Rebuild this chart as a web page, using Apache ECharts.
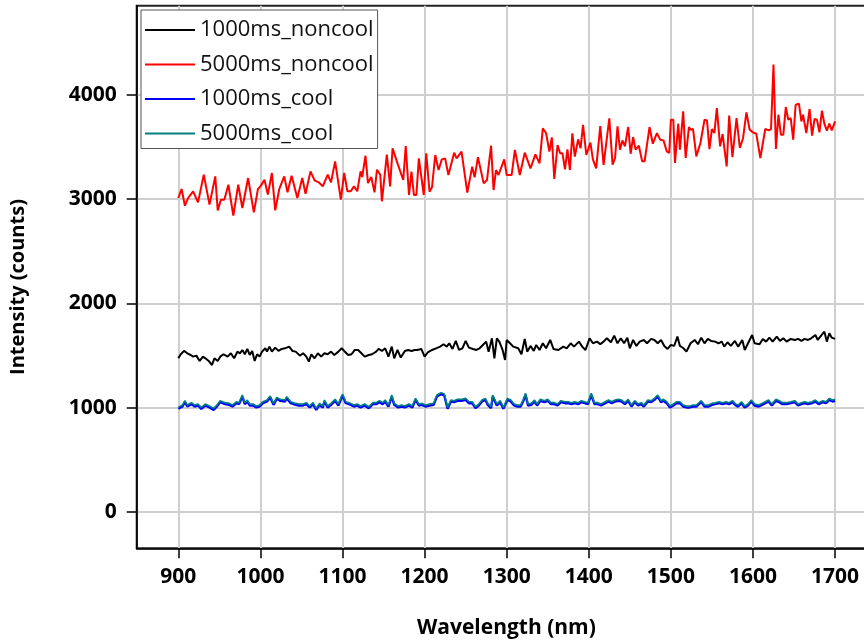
<!DOCTYPE html>
<html><head><meta charset="utf-8">
<script src="https://cdn.jsdelivr.net/npm/echarts@6/dist/echarts.min.js"></script>
<style>html,body{margin:0;padding:0;background:#fff}#c{width:864px;height:640px}</style>
</head><body><div id="c"></div><script>
const seriesNames = ['1000ms_noncool', '5000ms_noncool', '1000ms_cool', '5000ms_cool'];
const seriesColors = ['#000000', '#ff0000', '#0000ff', '#008080'];
const xTicks = [900, 1000, 1100, 1200, 1300, 1400, 1500, 1600, 1700];
const yTicks = [0, 1000, 2000, 3000, 4000];

// 1000ms_noncool (black)
const blackWl = [900,903,907,911,915,918,922,926,930,933,937,941,944,948,951,955,960,964,968,972,
975,978,981,984,987,990,993,996,999,1002,1006,1008,1011,1014,1018,1022,1026,1030,1035,1039,
1043,1048,1052,1056,1059,1062,1066,1070,1074,1078,1082,1086,1090,1095,1099,1102,1107,1111,1115,1119,
1123,1127,1132,1136,1141,1144,1148,1152,1156,1160,1163,1167,1171,1176,1180,1184,1188,1191,1196,1200,
1204,1209,1214,1219,1223,1227,1230,1234,1238,1242,1246,1250,1254,1259,1263,1267,1271,1275,1278,1282,
1285,1288,1291,1295,
1298,1300,1304,1308,1314,1318,1322,1325,1329,1333,1336,1340,1344,1348,1353,1357,1363,1369,1373,1378,
1382,1388,1392,1396,1401,1405,1410,1414,1418,1422,1427,1431,1435,1439,1443,1447,1450,1454,1458,1462,
1467,1471,1476,1480,1484,1488,1492,1496,1500,1504,1508,1511,1515,1519,1524,1529,1533,1537,1541,1545,
1549,1554,1558,1562,1565,1569,1573,1578,1582,1587,1590,1594,1599,1602,1608,1612,1616,1620,1624,1629,
1633,1637,1641,1646,1651,1655,1659,1663,1667,1671,1676,1679,1683,1687,1690,1693,1696,1700];
const blackVal = [1473,1512,1544,1521,1505,1489,1499,1448,1489,1473,1448,1409,1473,1448,1489,1512,1489,1521,1473,1537,
1521,1553,1512,1563,1505,1544,1448,1512,1489,1537,1569,1537,1585,1537,1576,1544,1563,1569,1585,1544,
1537,1499,1521,1489,1441,1512,1473,1521,1489,1521,1512,1537,1505,1537,1569,1544,1505,1512,1553,1553,
1521,1489,1505,1512,1537,1563,1544,1569,1489,1585,1473,1553,1480,1544,1553,1544,1553,1553,1563,1489,
1531,1553,1569,1585,1608,1585,1617,1563,1640,1553,1569,1640,1576,1563,1553,1569,1601,1633,1537,1665,
1473,1665,1633,1553,
1457,1649,1617,1585,1569,1512,1659,1537,1592,1544,1601,1553,1617,1569,1649,1563,1553,1585,1569,1617,
1585,1633,1585,1553,1665,1617,1633,1608,1633,1665,1627,1691,1617,1665,1617,1671,1569,1649,1592,1633,
1649,1617,1659,1649,1617,1649,1592,1563,1601,1592,1681,1592,1572,1537,1617,1649,1608,1671,1617,1659,
1640,1633,1617,1633,1585,1627,1592,1640,1585,1649,1553,1617,1697,1617,1608,1659,1633,1671,1633,1681,
1640,1665,1633,1659,1649,1659,1640,1659,1649,1665,1697,1649,1691,1729,1633,1713,1671,1659];

// 5000ms_noncool (red)
const redWl = [900,904,908,912,918,924,931,938,945,948,952,956,961,967,973,978,985,992,997,1000,
1005,1009,1014,1018,1023,1029,1033,1038,1045,1051,1055,1061,1066,1071,1076,1082,1086,1091,1098,1102,
1106,1110,1114,1118,1122,1124,1128,1131,1135,1139,1142,1146,1148,1154,1158,1161,1167,1174,1177,1181,
1184,1187,1190,1193,1199,1202,1206,1209,1213,1217,1221,1225,1229,1236,1239,1245,1252,1258,1261,1265,
1272,1276,1281,1284,1287,1290,1297,1300,1306,1310,1316,1322,1329,1335,1340,1344,1348,1352,1355,1358,
1362,1365,1368,1371,1374,1377,1380,1383,1387,1390,1393,1397,1402,1405,1409,1414,1418,1425,1429,1432,
1435,1438,1441,1444,1448,1451,1454,1457,1461,1465,1468,1474,1478,1483,1487,1491,1495,1498,1500,1503,
1505,1509,1511,1515,1518,1522,1524,1527,1531,1536,1541,1544,1547,1550,1553,1556,1560,1563,1568,1571,
1575,1580,1584,1588,1592,1596,1600,1604,1609,1615,1619,1622,1625,1628,1631,1634,1637,1640,1643,1646,
1649,1652,1656,1659,1661,1665,1669,1672,1675,1678,1681,1684,1687,1690,1693,1696,1700];
const redVal = [3010,3096,2936,3010,3074,2968,3233,2946,3217,2891,2994,2994,3137,2840,3137,2914,3201,2872,3096,3121,
3185,3042,3249,2891,3096,3217,3064,3224,3010,3201,3051,3265,3179,3160,3121,3233,3160,3361,2994,3249,
3074,3074,3121,3074,3265,3211,3415,3153,3211,3064,3281,3233,2978,3425,3121,3486,3342,3182,3508,3038,
3262,3038,3038,3390,3038,3438,3070,3112,3422,3278,3380,3390,3230,3444,3390,3454,3061,3310,3208,3400,
3150,3182,3511,3086,3278,3230,3380,3230,3230,3470,3230,3444,3294,3428,3342,3678,3630,3454,3591,3192,
3518,3438,3438,3284,3476,3278,3630,3406,3572,3486,3710,3422,3540,3380,3294,3700,3326,3773,3329,3393,
3696,3473,3562,3505,3690,3434,3594,3473,3511,3361,3361,3690,3530,3632,3569,3562,3457,3441,3760,3760,
3345,3722,3473,3840,3393,3690,3664,3671,3409,3537,3760,3754,3479,3671,3632,3872,3505,3623,3313,3799,
3402,3776,3489,3585,3831,3664,3639,3626,3393,3671,3658,3671,4288,3479,3808,3617,3617,3882,3760,3776,
3569,3904,3914,3744,3808,3632,3863,3607,3767,3760,3639,3847,3722,3655,3722,3658,3744];

// cooled series (blue and teal) share wavelengths
const coolWl = [900,905,908,911,916,920,924,928,933,938,943,947,951,957,962,966,971,974,978,981,
984,987,991,995,999,1003,1008,1012,1016,1020,1024,1030,1032,1037,1039,1043,1047,1052,1056,1060,
1064,1068,1072,1076,1078,1082,1086,1091,1095,1100,1104,1108,1114,1118,1122,1127,1132,1137,1141,1145,
1149,1152,1156,1160,1163,1168,1172,1176,1181,1185,1189,1193,1197,1201,1206,1211,1215,1220,1224,1228,
1232,1236,1240,1245,1250,1254,1258,1262,1266,1270,1274,1277,1281,1283,1288,1292,1296,
1301,1305,1309,1313,1317,1320,1323,1326,1330,1334,1337,1341,1346,1350,1354,1358,1362,1366,1371,1375,
1379,1383,1387,1391,1395,1399,1403,1407,1411,1415,1420,1424,1428,1432,1436,1440,1444,1448,1452,1456,
1460,1464,1467,1472,1476,1480,1484,1488,1491,1495,1499,1503,1507,1511,1515,1519,1523,1527,1531,1537,
1541,1546,1550,1554,1559,1563,1567,1571,1575,1579,1582,1586,1590,1594,1598,1602,1607,1611,1615,1619,
1623,1628,1632,1636,1641,1646,1651,1655,1659,1663,1667,1672,1676,1680,1685,1689,1693,1697,1700];
const blueVal = [989,1011,1053,1011,1034,1011,1021,989,1021,1002,979,1011,1053,1034,1027,1011,1043,1034,1107,1034,
1059,1021,1021,1002,1011,1043,1059,1097,1027,1085,1066,1059,1091,1043,1059,1027,1021,1021,1034,1002,
1034,979,1027,1002,1059,1002,1027,1066,1021,1117,1043,1034,1011,1021,1002,1021,995,1034,1034,1053,
1034,1059,1011,1107,1027,1002,1011,1002,1021,1002,1075,1021,1027,1011,1021,1027,1107,1129,1117,989,
1059,1053,1066,1066,1075,1043,1043,995,1021,1059,1075,1027,995,1107,1021,1053,989,
1075,1059,1021,1011,1011,1059,1123,1021,1027,1059,1021,1066,1053,1066,1034,1034,1021,1053,1043,1043,
1034,1043,1034,1053,1043,1034,1123,1034,1034,1021,1043,1059,1043,1059,1066,1059,1034,1066,1011,1053,
1021,1034,1011,1059,1053,1075,1107,1053,1066,1043,1002,1021,1043,1043,1011,1002,1002,1011,1011,1053,
1011,1011,1027,1034,1043,1034,1043,1034,1053,1021,1011,1043,1002,1021,1059,1021,1011,1027,1043,1059,
1021,1066,1053,1034,1034,1043,1053,1021,1034,1043,1034,1043,1059,1034,1053,1043,1075,1059,1066];
const tealVal = [1003,1025,1067,1025,1048,1025,1035,1003,1035,1016,993,1025,1067,1048,1041,1025,1057,1048,1121,1048,
1073,1035,1035,1016,1025,1057,1073,1111,1041,1099,1080,1073,1105,1057,1073,1041,1035,1035,1048,1016,
1048,993,1041,1016,1073,1016,1041,1080,1035,1131,1057,1048,1025,1035,1016,1035,1009,1048,1048,1067,
1048,1073,1025,1121,1041,1016,1025,1016,1035,1016,1089,1035,1041,1025,1035,1041,1121,1143,1131,1003,
1073,1067,1080,1080,1089,1057,1057,1009,1035,1073,1089,1041,1009,1121,1035,1067,1003,
1089,1073,1035,1025,1025,1073,1137,1035,1041,1073,1035,1080,1067,1080,1048,1048,1035,1067,1057,1057,
1048,1057,1048,1067,1057,1048,1137,1048,1048,1035,1057,1073,1057,1073,1080,1073,1048,1080,1025,1067,
1035,1048,1025,1073,1067,1089,1121,1067,1080,1057,1016,1035,1057,1057,1025,1016,1016,1025,1025,1067,
1025,1025,1041,1048,1057,1048,1057,1048,1067,1035,1025,1057,1016,1035,1073,1035,1025,1041,1057,1073,
1035,1080,1067,1048,1048,1057,1067,1035,1048,1057,1048,1057,1073,1048,1067,1057,1089,1073,1080];

function pairs(xs, ys) {
  const n = Math.min(xs.length, ys.length);
  const out = [];
  for (let i = 0; i < n; i++) out.push([xs[i], ys[i]]);
  return out;
}
const plain = v => String(v);

const FONT = "'Open Sans', 'DejaVu Sans', sans-serif";
const seriesData = [pairs(blackWl, blackVal), pairs(redWl, redVal), pairs(coolWl, blueVal), pairs(coolWl, tealVal)];
const lineWidths = [2, 2, 2.4, 1.6];

const chart = echarts.init(document.getElementById('c'), null, { renderer: 'canvas' });
chart.setOption({
  animation: false,
  backgroundColor: '#ffffff',
  grid: { left: 136.7, width: 739.4, top: 5.7, height: 542.6, outerBoundsMode: 'none', containLabel: false,
          show: true, borderColor: '#222', borderWidth: 2, backgroundColor: 'transparent' },
  legend: {
    data: seriesNames,
    orient: 'vertical',
    left: 141, top: 10,
    padding: [8, 4, 3, 4],
    itemWidth: 50, itemHeight: 2, itemGap: 10.5,
    icon: 'rect',
    backgroundColor: '#ffffff',
    borderColor: '#555', borderWidth: 1, borderRadius: 0,
    textStyle: { fontFamily: FONT, fontSize: 22, color: '#111', lineHeight: 24 }
  },
  xAxis: {
    type: 'value', min: 849.3, max: 1750,
    name: 'Wavelength (nm)', nameLocation: 'middle', nameGap: 69,
    nameTextStyle: { fontFamily: FONT, fontSize: 21, fontWeight: 'bold', color: '#000' },
    axisLine: { show: true, onZero: false, lineStyle: { color: '#000', width: 1.5 } },
    axisTick: { show: true, inside: false, length: 10, customValues: xTicks, lineStyle: { color: '#000', width: 1.5 } },
    axisLabel: { customValues: xTicks, formatter: plain, margin: 18, fontFamily: FONT, fontSize: 21, fontWeight: 'bold', color: '#000' },
    splitLine: { show: true, lineStyle: { color: '#cfcfcf', width: 2 } }
  },
  yAxis: {
    type: 'value', min: -348, max: 4853,
    name: 'Intensity (counts)', nameLocation: 'middle', nameGap: 108,
    nameTextStyle: { fontFamily: FONT, fontSize: 20, fontWeight: 'bold', color: '#000', padding: [0, 20, 0, 0] },
    axisLine: { show: true, onZero: false, lineStyle: { color: '#000', width: 1.5 } },
    axisTick: { show: true, inside: false, length: 10, customValues: yTicks, lineStyle: { color: '#000', width: 1.5 } },
    axisLabel: { customValues: yTicks, formatter: plain, margin: 20, fontFamily: FONT, fontSize: 21, fontWeight: 'bold', color: '#000' },
    splitLine: { show: true, lineStyle: { color: '#cfcfcf', width: 2 } }
  },
  series: seriesNames.map((name, i) => ({
    name: name,
    type: 'line',
    data: seriesData[i],
    showSymbol: false,
    symbol: 'none',
    color: seriesColors[i],
    lineStyle: { color: seriesColors[i], width: lineWidths[i] },
    z: 2 + i
  }))
});
</script></body></html>
